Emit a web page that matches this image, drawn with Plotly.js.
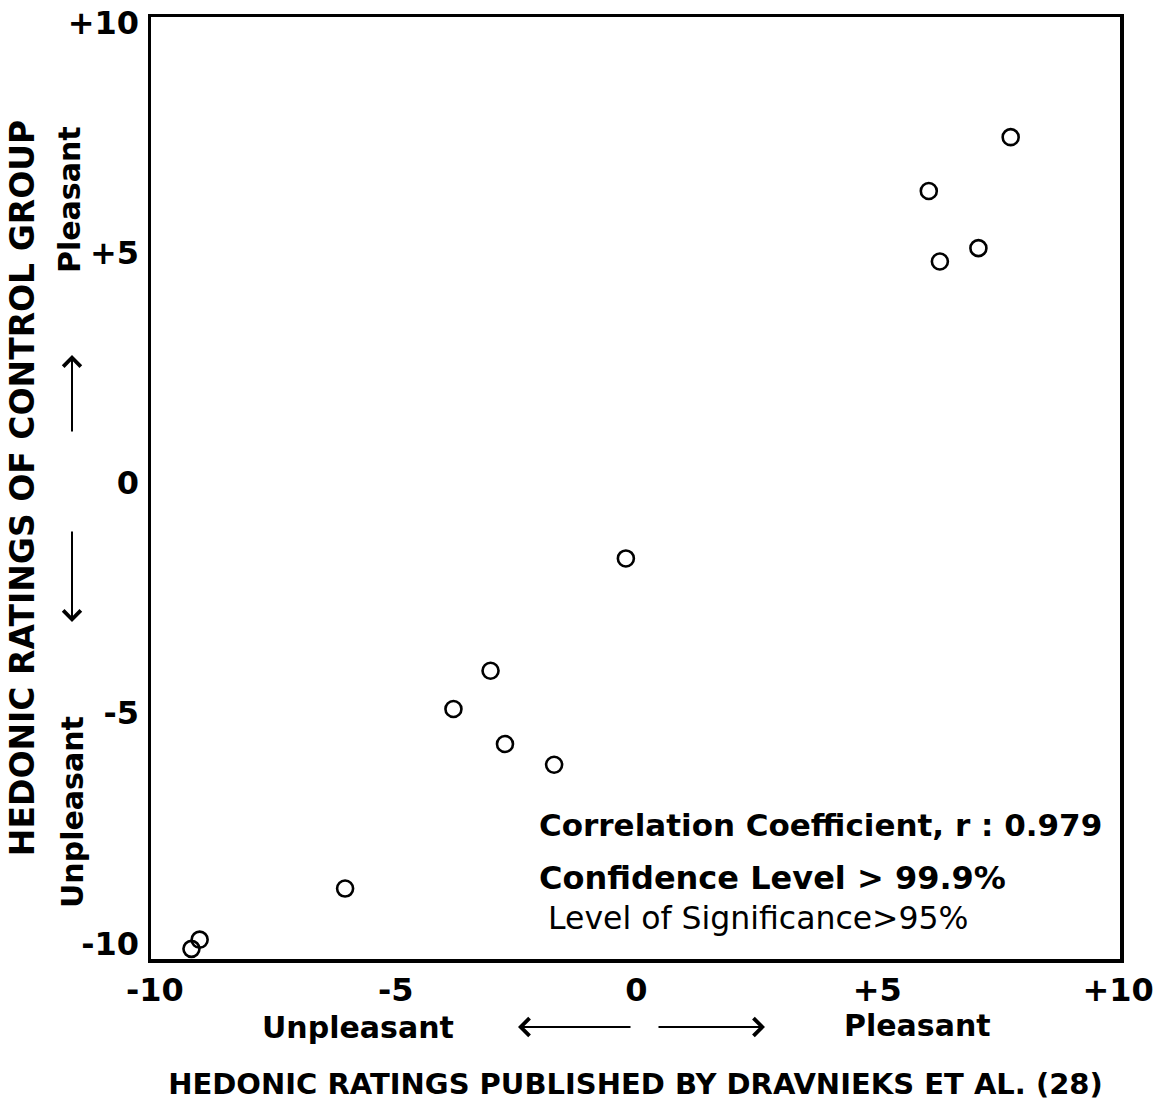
<!DOCTYPE html>
<html>
<head>
<meta charset="utf-8">
<script src="https://cdn.plot.ly/plotly-3.0.1.min.js"></script>
<style>
  html, body { margin: 0; padding: 0; background: #ffffff; }
  #chart { width: 1163px; height: 1101px; }
</style>
</head>
<body>
<div id="chart"></div>
<script>
// Hedonic ratings: Dravnieks et al. (x) vs control group (y)
const publishedRatings = [7.77, 6.07, 7.10, 6.30, -0.22, -3.03, -3.80, -2.73, -1.71, -6.05, -9.07, -9.24];
const controlRatings   = [7.51, 6.34, 5.10, 4.81, -1.64, -4.08, -4.91, -5.67, -6.12, -8.81, -9.92, -10.12];

const tickValues = [-10, -5, 0, 5, 10];
const xTickLabels = ['-10', '-5', '0', '+5', '+10'];
const yTickLabels = ['-10', '-5', '0', '+5', '+10'];

const statsLines = [
  'Correlation Coefficient, r : 0.979',
  'Confidence Level > 99.9%',
  'Level of Significance>95%'
];

const FONT = 'DejaVu Sans, Liberation Sans, Arial, sans-serif';

const trace = {
  type: 'scatter',
  mode: 'markers',
  x: publishedRatings,
  y: controlRatings,
  marker: {
    symbol: 'circle-open',
    size: 16,
    color: '#000000',
    line: { color: '#000000', width: 2.6 }
  },
  hoverinfo: 'x+y',
  showlegend: false
};

// plot area pixel geometry helpers (paper coordinates)
const L = 151, R = 1120, T = 17, B = 959;
const px = (p) => (p - L) / (R - L);
const py = (p) => (B - p) / (B - T);

function label(text, x, y, size, opts) {
  return Object.assign({
    text: text, xref: 'paper', yref: 'paper', x: px(x), y: py(y),
    xanchor: 'center', yanchor: 'middle', showarrow: false,
    font: { family: FONT, size: size, weight: 'bold', color: '#000' }
  }, opts || {});
}
function arrow(x, y, ax, ay) {
  return { text: '', xref: 'paper', yref: 'paper', x: px(x), y: py(y), ax: ax, ay: ay,
    showarrow: true, arrowhead: 4, arrowsize: 1.7, arrowwidth: 2, arrowcolor: '#000' };
}

const annotations = [
  label('Unpleasant', 358, 1027, 30),
  label('Pleasant', 917, 1025, 30),
  label('Pleasant', 70, 200, 30, { textangle: -90 }),
  label('Unpleasant', 72, 812, 30, { textangle: -90 }),
  arrow(518, 1027, 114, 0),
  arrow(765, 1027, -108, 0),
  arrow(72, 355, 0, 78),
  arrow(72, 622, 0, -92),
  label(statsLines[0], 537, 825, 31, { xanchor: 'left' }),
  label(statsLines[1], 537, 878, 32, { xanchor: 'left' }),
  label(statsLines[2], 546, 918, 31.5, { xanchor: 'left',
    font: { family: FONT, size: 31.5, weight: 'normal', color: '#000' } })
];

const layout = {
  width: 1163,
  height: 1101,
  margin: { l: L, r: 1163 - R, t: T, b: 1101 - B, pad: 0 },
  paper_bgcolor: '#ffffff',
  plot_bgcolor: '#ffffff',
  font: { family: FONT, color: '#000000' },
  xaxis: {
    range: [-10.08, 10.04],
    tickvals: tickValues,
    ticktext: xTickLabels,
    ticks: '',
    showgrid: false,
    zeroline: false,
    showline: true,
    mirror: true,
    linecolor: '#000000',
    linewidth: 3.5,
    ticklabelstandoff: 0,
    tickfont: { family: FONT, size: 32, weight: 'bold', color: '#000' },
    title: {
      text: 'HEDONIC RATINGS PUBLISHED BY DRAVNIEKS ET AL. (28)',
      font: { family: FONT, size: 29, weight: 'bold', color: '#000' },
      standoff: 76
    },
    automargin: false
  },
  yaxis: {
    range: [-10.34, 10.12],
    tickvals: tickValues,
    ticktext: yTickLabels,
    ticks: '',
    showgrid: false,
    zeroline: false,
    showline: true,
    mirror: true,
    linecolor: '#000000',
    linewidth: 3.5,
    ticklabelstandoff: 2,
    tickfont: { family: FONT, size: 32, weight: 'bold', color: '#000' },
    title: {
      text: 'HEDONIC RATINGS OF CONTROL GROUP',
      font: { family: FONT, size: 33, weight: 'bold', color: '#000' },
      standoff: 24
    },
    automargin: false
  },
  annotations: annotations,
  showlegend: false
};

Plotly.newPlot('chart', [trace], layout, { displayModeBar: false, staticPlot: true });
</script>
</body>
</html>
